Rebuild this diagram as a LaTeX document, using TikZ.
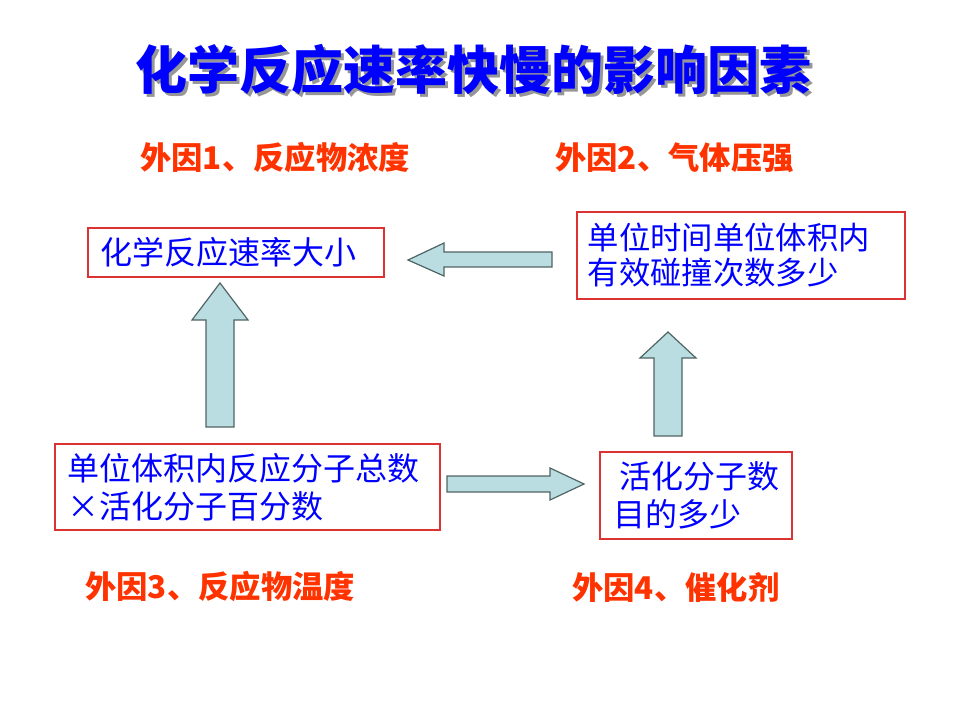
\documentclass[tikz,border=0pt]{standalone}
\usepackage{fontspec}
\setmainfont{Noto Sans CJK SC}
\newfontfamily\cjk{Noto Sans CJK SC}
\definecolor{txtblue}{RGB}{0,0,255}
\definecolor{txtred}{RGB}{255,51,0}
\definecolor{boxred}{RGB}{220,50,50}
\definecolor{arrfill}{RGB}{185,221,224}
\definecolor{arrline}{RGB}{80,100,100}
\definecolor{shadowgray}{RGB}{150,150,150}
\tikzset{
  box/.style={draw=boxred, line width=0.8pt, rectangle, align=left, text=txtblue,
    font=\cjk\fontsize{24pt}{28.5pt}\selectfont, inner ysep=0pt},
  factor/.style={anchor=west, text=txtred, font=\cjk\bfseries\fontsize{23.5pt}{27pt}\selectfont, inner sep=0pt},
  blockarrow/.style={draw=arrline, fill=arrfill, line width=0.9pt, line join=miter},
  titletext/.style={font=\cjk\bfseries\fontsize{39pt}{46pt}\selectfont, inner sep=0pt}
}
\begin{document}
\begin{tikzpicture}[x=0.75pt, y=-0.75pt]
\useasboundingbox (0,0) rectangle (960,720);
% title with shadow
\node[titletext, text=shadowgray] (titleshadow) at (476,73) {化学反应速率快慢的影响因素};
\node[titletext, text=txtblue] (title) at (473,70) {化学反应速率快慢的影响因素};
% factor labels
\node[factor] (f1) at (140,158) {外因1、反应物浓度};
\node[factor] (f2) at (555,158) {外因2、气体压强};
\node[factor] (f3) at (85,587) {外因3、反应物温度};
\node[factor] (f4) at (572,587) {外因4、催化剂};
% boxes
\node[box, inner xsep=9pt, text width=204pt, minimum height=36.75pt] (rate) at (236,252.5) {化学反应速率大小};
\node[box, inner xsep=8pt, text width=230pt, minimum height=65.25pt, font=\cjk\fontsize{23.5pt}{26.25pt}\selectfont] (collide) at (741,255.5) {单位时间单位体积内\\有效碰撞次数多少};
\node[box, inner xsep=9pt, text width=270.75pt, minimum height=64.5pt] (total) at (247.5,487) {单位体积内反应分子总数\\×活化分子百分数};
\node[box, inner xsep=0pt, minimum width=144pt, minimum height=65.25pt] (active) at (696,495.5) {\hspace*{4.5pt}活化分子数\\目的多少};
% block arrows
\draw[blockarrow] (552,252) -- (444,252) -- (444,243) -- (408,260) -- (444,276) -- (444,267) -- (552,267) -- cycle;
\draw[blockarrow] (206,427) -- (206,320) -- (192,320) -- (220,283) -- (248,320) -- (234,320) -- (234,427) -- cycle;
\draw[blockarrow] (654,436) -- (654,358) -- (640,358) -- (668,332) -- (696,358) -- (682,358) -- (682,436) -- cycle;
\draw[blockarrow] (447,476) -- (550,476) -- (550,468) -- (584,484) -- (550,500) -- (550,492) -- (447,492) -- cycle;
\end{tikzpicture}
\end{document}
